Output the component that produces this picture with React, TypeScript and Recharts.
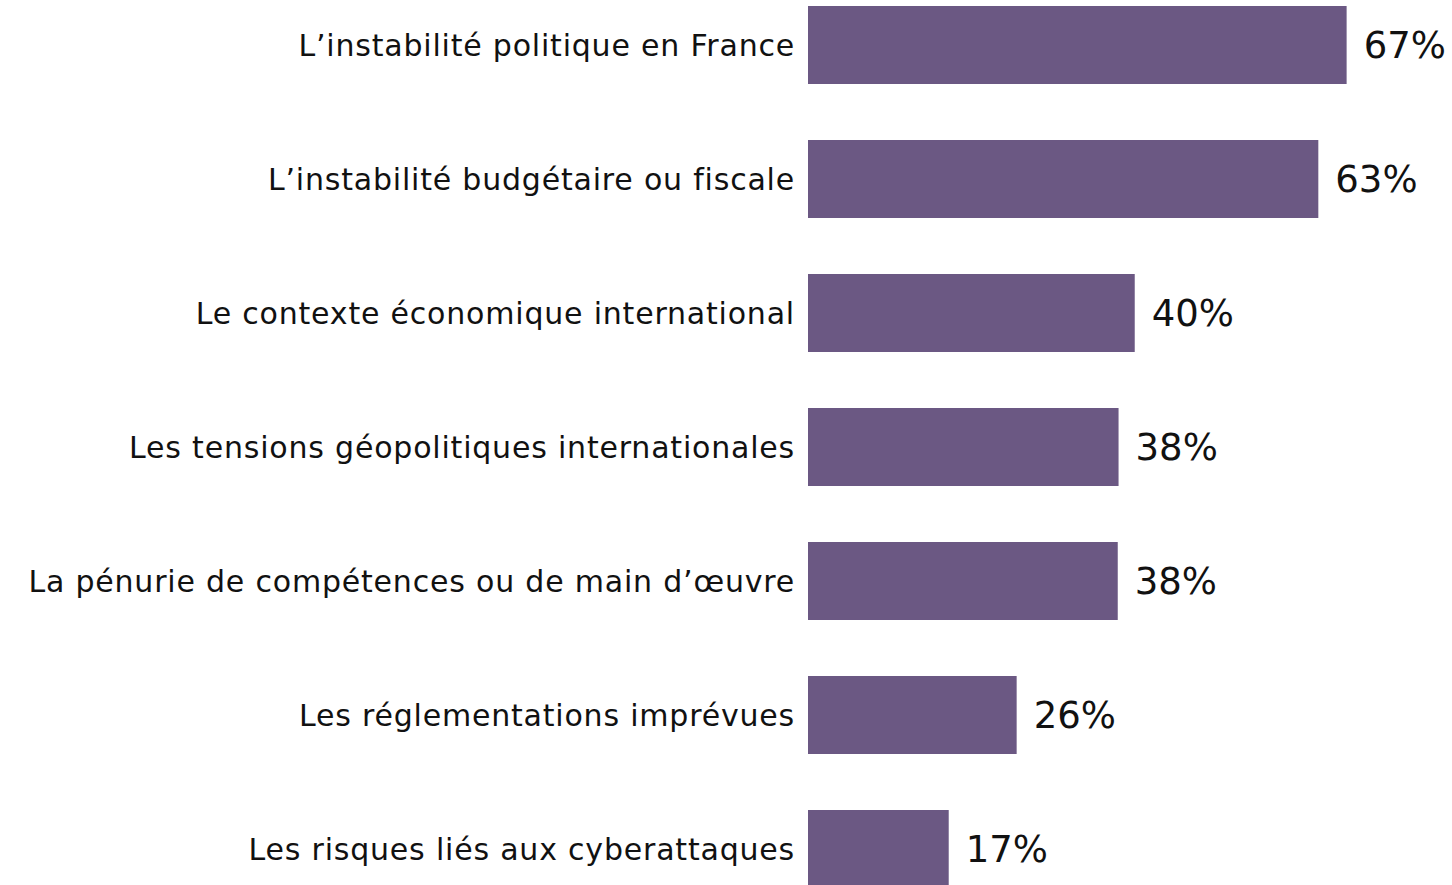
import { BarChart, Bar, XAxis, YAxis, LabelList } from 'recharts'

const categories = [
  'L’instabilité politique en France',
  'L’instabilité budgétaire ou fiscale',
  'Le contexte économique international',
  'Les tensions géopolitiques internationales',
  'La pénurie de compétences ou de main d’œuvre',
  'Les réglementations imprévues',
  'Les risques liés aux cyberattaques',
]

const shares = [66.6, 63.1, 40.4, 38.4, 38.3, 25.8, 17.4]

const chartData = categories.map((name, i) => ({ name, value: shares[i] }))

const FONT = '"DejaVu Sans", sans-serif'

const formatPct = (v: number) => `${Math.round(v)}%`

export default function App() {
  return (
    <div style={{ position: 'absolute', left: 0, top: -22 }}>
      <BarChart
        width={1455}
        height={938}
        data={chartData}
        layout="vertical"
        margin={{ top: 0, right: 0, bottom: 0, left: 0 }}
        barCategoryGap={0}
      >
        <XAxis type="number" domain={[0, 80]} hide />
        <YAxis
          type="category"
          dataKey="name"
          width={808}
          axisLine={false}
          tickLine={false}
          tickSize={0}
          tickMargin={13}
          tick={{ fill: '#111111', fontSize: 30, fontFamily: FONT, letterSpacing: 0.8 }}
          interval={0}
        />
        <Bar dataKey="value" fill="#6B5883" barSize={78} isAnimationActive={false}>
          <LabelList
            dataKey="value"
            position="right"
            offset={17}
            formatter={formatPct}
            style={{ fill: '#111111', fontSize: 37, fontFamily: FONT }}
          />
        </Bar>
      </BarChart>
    </div>
  )
}
